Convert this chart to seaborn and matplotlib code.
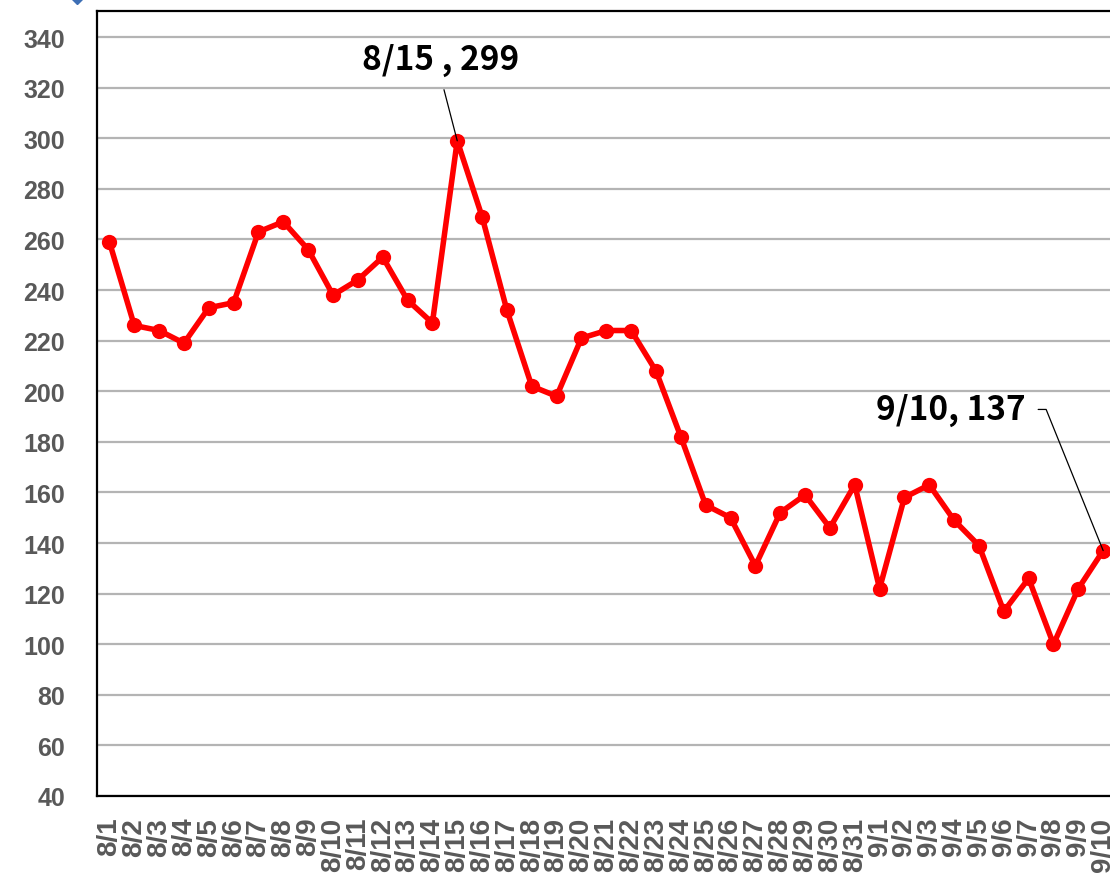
import matplotlib
matplotlib.use("Agg")
import matplotlib.pyplot as plt
import matplotlib.lines as mlines
import seaborn as sns
import pandas as pd

dates = ["8/1", "8/2", "8/3", "8/4", "8/5", "8/6", "8/7", "8/8", "8/9", "8/10",
         "8/11", "8/12", "8/13", "8/14", "8/15", "8/16", "8/17", "8/18", "8/19", "8/20",
         "8/21", "8/22", "8/23", "8/24", "8/25", "8/26", "8/27", "8/28", "8/29", "8/30",
         "8/31", "9/1", "9/2", "9/3", "9/4", "9/5", "9/6", "9/7", "9/8", "9/9", "9/10"]
values = [259, 226, 224, 219, 233, 235, 263, 267, 256, 238,
          244, 253, 236, 227, 299, 269, 232, 202, 198, 221,
          224, 224, 208, 182, 155, 150, 131, 152, 159, 146,
          163, 122, 158, 163, 149, 139, 113, 126, 100, 122, 137]
yticks = list(range(40, 341, 20))

df = pd.DataFrame({"date": dates, "value": values, "idx": range(len(dates))})

sns.set_theme(style="white")
plt.rcParams["font.family"] = ["Liberation Sans", "DejaVu Sans"]

fig = plt.figure(figsize=(11.10, 8.79), dpi=100)
ax = fig.add_axes([97 / 1110, 1 - 797 / 879, (1115.6 - 97) / 1110, (797 - 12) / 879])

sns.lineplot(data=df, x="idx", y="value", ax=ax, color="#FF0000", linewidth=4.0,
             marker="o", markersize=11, markeredgewidth=0, zorder=3)

ax.set_xlim(-0.5, len(dates) - 0.5)
ax.set_ylim(40, 350.3)
ax.set_yticks(yticks)
ax.set_yticklabels([str(t) for t in yticks], fontsize=18, fontweight="bold", color="#595959")
ax.set_xticks(range(len(dates)))
ax.set_xticklabels(dates, rotation=90, fontsize=20, fontweight="bold", color="#595959")
ax.tick_params(axis="y", length=0, pad=23)
ax.tick_params(axis="x", length=0, pad=15)
ax.set_xlabel("")
ax.set_ylabel("")

ax.yaxis.grid(True, color="#B4B4B4", linewidth=1.6)
ax.xaxis.grid(False)
ax.set_axisbelow(True)
for side in ["left", "bottom", "top"]:
    ax.spines[side].set_visible(True)
    ax.spines[side].set_color("black")
    ax.spines[side].set_linewidth(1.6)
ax.spines["right"].set_visible(False)

ann_font = ["Noto Sans CJK JP", "DejaVu Sans"]
# peak annotation
i_peak = dates.index("8/15")
ax.annotate(f"8/15 , {values[i_peak]}", xy=(i_peak, values[i_peak]), xytext=(13.32, 331.3),
            ha="center", va="center", fontsize=24, fontweight="bold", family=ann_font,
            color="black",
            arrowprops=dict(arrowstyle="-", color="black", lw=0.9, relpos=(0.5, 0),
                            shrinkA=8, shrinkB=0))
# last point annotation
i_last = len(dates) - 1
ax.annotate(f"9/10, {values[i_last]}", xy=(i_last, values[i_last]), xytext=(36.86, 192.8),
            ha="right", va="center", fontsize=24, fontweight="bold", family=ann_font,
            color="black",
            arrowprops=dict(arrowstyle="-", color="black", lw=0.9, relpos=(1, 0.5),
                            shrinkA=7, shrinkB=0,
                            connectionstyle="angle,angleA=0,angleB=112,rad=0"))

# partial legend marker cropped at top
fig.add_artist(mlines.Line2D([77 / 1110], [1 + 4 / 879], marker="D", markersize=9,
                             color="#3E6FB5", transform=fig.transFigure, clip_on=False))

fig.savefig("out.png", dpi=100)
